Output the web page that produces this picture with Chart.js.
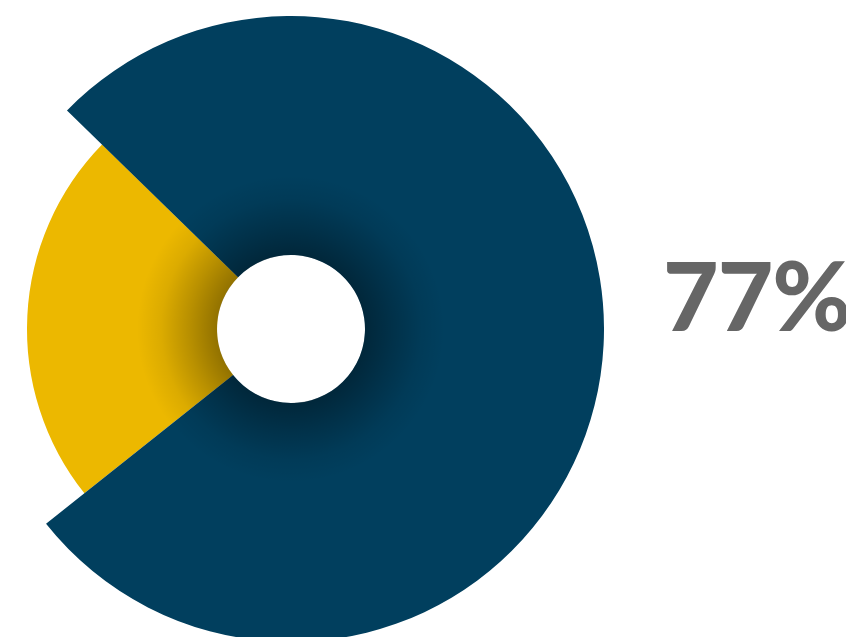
<!DOCTYPE html>
<html lang="en">
<head>
  <meta charset="UTF-8">
  <title>77%</title>
  <script src="https://cdn.jsdelivr.net/npm/chart.js"></script>
  <style>
    html, body { margin: 0; padding: 0; background: #fff; overflow: hidden; }
    body { width: 846px; height: 637px; position: relative; }
    #wrap { position: absolute; left: -22px; top: 16px; width: 626px; height: 626px; }
    #share {
      position: absolute; left: 663px; top: 246px;
      font-family: Lato, sans-serif; font-weight: 900; font-size: 96px; line-height: 1;
      color: #666; white-space: nowrap; letter-spacing: -1px;
    }
  </style>
</head>
<body>
  <div id="wrap"><canvas id="chart" width="626" height="626"></canvas></div>
  <div id="share"></div>

  <script>
    const labels = ['Other', 'Share'];
    const values = [23, 77];
    const colors = ['#ECB800', '#013F5E'];

    document.getElementById('share').textContent = values[1] + '%';

    // yellow slice is drawn shorter than the navy one
    const outerRatio = [264 / 313, 1];

    const sliceDepth = {
      id: 'sliceDepth',
      beforeDatasetsDraw(chart) {
        const meta = chart.getDatasetMeta(0);
        const full = Math.max(...meta.data.map(a => a.outerRadius));
        meta.data.forEach((arc, i) => {
          arc.outerRadius = full * outerRatio[i];
        });
      }
    };

    // dark halo around the hole
    const innerShade = {
      id: 'innerShade',
      afterDatasetsDraw(chart) {
        const arc = chart.getDatasetMeta(0).data[0];
        const { x, y, innerRadius } = arc;
        const r2 = innerRadius + 80;
        const ctx = chart.ctx;
        const g = ctx.createRadialGradient(x, y, innerRadius, x, y, r2);
        g.addColorStop(0, 'rgba(0,0,0,0.38)');
        g.addColorStop(0.35, 'rgba(0,0,0,0.22)');
        g.addColorStop(0.7, 'rgba(0,0,0,0.07)');
        g.addColorStop(1, 'rgba(0,0,0,0)');
        ctx.save();
        ctx.beginPath();
        ctx.arc(x, y, r2, 0, Math.PI * 2);
        ctx.arc(x, y, innerRadius, 0, Math.PI * 2, true);
        ctx.fillStyle = g;
        ctx.fill();
        ctx.restore();
      }
    };

    new Chart(document.getElementById('chart'), {
      type: 'doughnut',
      data: {
        labels: labels,
        datasets: [{
          data: values,
          backgroundColor: colors,
          borderWidth: 0,
          hoverOffset: 0
        }]
      },
      options: {
        responsive: false,
        animation: false,
        cutout: 74,
        rotation: 231.5,
        layout: { padding: 0 },
        plugins: {
          legend: { display: false },
          tooltip: { enabled: false }
        },
        events: []
      },
      plugins: [sliceDepth, innerShade]
    });
  </script>
</body>
</html>
